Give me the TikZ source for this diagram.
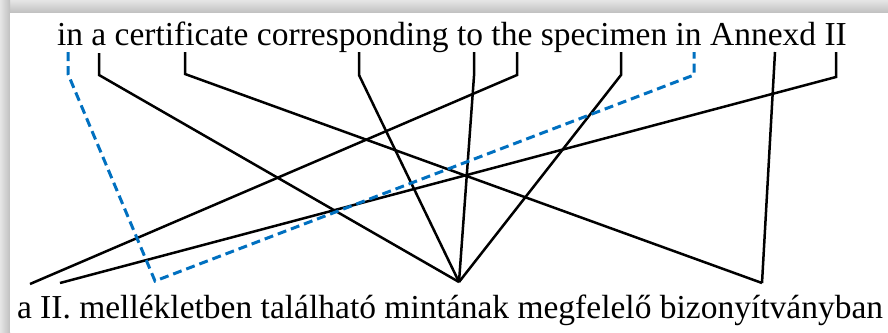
\documentclass[tikz,border=0pt]{standalone}
\usepackage{fontspec}
\setmainfont{Liberation Serif}
\definecolor{dashblue}{HTML}{0070C0}
\begin{document}
\begin{tikzpicture}[x=1pt,y=-1pt,
  txt/.style={inner sep=0pt,outer sep=0pt,font=\fontsize{33.5}{40}\selectfont},
  link/.style={line width=2.5pt,black,line join=miter},
  bluelink/.style={line width=3pt,dashblue,dash pattern=on 9pt off 5pt,line join=miter}]
\useasboundingbox (0,0) rectangle (888,332);
% frame with shadow
\fill[gray!30] (0,0) rectangle (888,332);
\shade[top color=gray!20,bottom color=gray!50] (0,0) rectangle (888,13);
\shade[left color=gray!20,right color=gray!50] (0,0) rectangle (10,332);
\fill[white] (10,13) rectangle (888,332);
% texts
\node[txt,anchor=base west] (top) at (57,45) {in a certificate corresponding to the specimen in Annexd II};
\node[txt,anchor=base west] (bot) at (17,318) {a II. mellékletben található mintának megfelelő bizonyítványban};
% top attachment points
\coordinate (in1) at (68,52);   \coordinate (in1k) at (68,74);
\coordinate (a) at (99,53);     \coordinate (ak) at (99,75);
\coordinate (cert) at (185,52); \coordinate (certk) at (185,74);
\coordinate (corr) at (359,52); \coordinate (corrk) at (359,75);
\coordinate (to) at (474,52);   \coordinate (tok) at (474,76);
\coordinate (the) at (517,52);  \coordinate (thek) at (517,75);
\coordinate (spec) at (621,52); \coordinate (speck) at (621,75);
\coordinate (in2) at (694,52);  \coordinate (in2k) at (694,75);
\coordinate (annex) at (775,52);
\coordinate (II) at (836,52);   \coordinate (IIk) at (836,77);
% bottom attachment points
\coordinate (ba) at (30,284);
\coordinate (bII) at (60,283);
\coordinate (bmell) at (155,281);
\coordinate (bmint) at (459,282);
\coordinate (bbiz) at (762,283);
% connectors
\draw[link] (a) -- (ak) -- (bmint);
\draw[link] (cert) -- (certk) -- (bbiz);
\draw[link] (corr) -- (corrk) -- (bmint);
\draw[link] (to) -- (tok) -- (bmint);
\draw[link] (the) -- (thek) -- (ba);
\draw[link] (spec) -- (speck) -- (bmint);
\draw[link] (annex) -- (bbiz);
\draw[link] (II) -- (IIk) -- (bII);
\draw[bluelink] (in1) -- (in1k) -- (bmell) -- (in2k) -- (in2);
\end{tikzpicture}
\end{document}
